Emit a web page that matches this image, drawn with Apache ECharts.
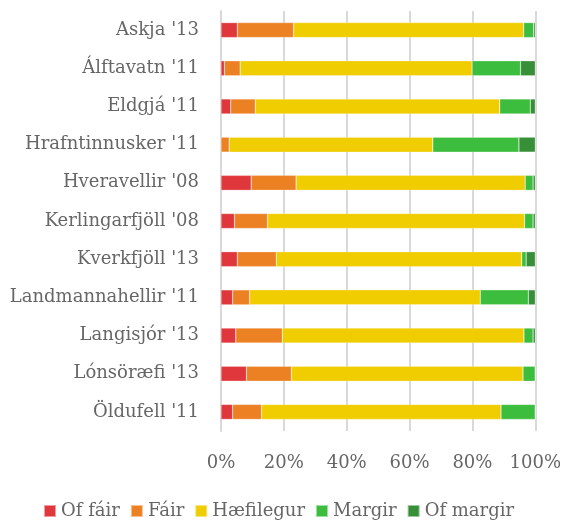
<!DOCTYPE html>
<html>
<head>
<meta charset="utf-8">
<script src="https://cdn.jsdelivr.net/npm/echarts@6/dist/echarts.min.js"></script>
<style>
  html, body { margin: 0; padding: 0; background: #fff; }
  #chart { width: 564px; height: 523px; }
</style>
</head>
<body>
<div id="chart"></div>
<script>
const places = ["Askja '13", "Álftavatn '11", "Eldgjá '11", "Hrafntinnusker '11", "Hveravellir '08",
  "Kerlingarfjöll '08", "Kverkfjöll '13", "Landmannahellir '11", "Langisjór '13", "Lónsöræfi '13", "Öldufell '11"];

const ofFair = [5.2, 1.1, 3.1, 0, 9.6, 4.3, 5.2, 3.7, 4.7, 8.1, 3.7];
const fair = [17.9, 5.0, 7.8, 2.6, 14.3, 10.5, 12.4, 5.4, 14.8, 14.3, 9.2];
const haefilegur = [73.2, 73.8, 77.8, 64.8, 72.9, 81.8, 78.1, 73.4, 76.9, 73.7, 76.2];
const margir = [3.2, 15.4, 9.7, 27.4, 2.5, 2.7, 1.4, 15.3, 2.9, 3.9, 10.9];
const ofMargir = [0.5, 4.7, 1.6, 5.2, 0.7, 0.7, 2.9, 2.2, 0.7, 0, 0];

const seriesNames = ["Of fáir", "Fáir", "Hæfilegur", "Margir", "Of margir"];
const seriesData = [ofFair, fair, haefilegur, margir, ofMargir];
const colors = ["#e0373c", "#ec8124", "#efcd00", "#3dbd3d", "#378f37"];

const font = "'DejaVu Serif', 'Liberation Serif', serif";
const textColor = "#666666";

const chart = echarts.init(document.getElementById("chart"));
chart.setOption({
  animation: false,
  textStyle: { fontFamily: font },
  color: colors,
  legend: {
    top: 497,
    left: 38,
    itemWidth: 12,
    itemHeight: 12,
    itemGap: 10,
    icon: "rect",
    textStyle: { color: textColor, fontSize: 18, fontFamily: font },
    data: seriesNames
  },
  grid: { left: 221, right: 28, top: 11, bottom: 92 },
  xAxis: {
    type: "value",
    min: 0,
    max: 100,
    interval: 20,
    axisLabel: {
      formatter: (v) => v + "%",
      color: textColor,
      fontSize: 18,
      margin: 23
    },
    axisLine: { show: false },
    axisTick: { show: false },
    splitLine: { lineStyle: { color: "#d9d9d9", width: 2 } }
  },
  yAxis: {
    type: "category",
    inverse: true,
    data: places,
    axisLabel: { color: textColor, fontSize: 18, margin: 22 },
    axisLine: { show: true, lineStyle: { color: "#d9d9d9", width: 2 } },
    axisTick: { show: false }
  },
  series: seriesData.map((d, i) => ({
    name: seriesNames[i],
    type: "bar",
    stack: "total",
    barWidth: 15,
    data: d,
    itemStyle: { borderColor: "rgba(255,255,255,0.5)", borderWidth: 0.5 }
  }))
});
</script>
</body>
</html>
